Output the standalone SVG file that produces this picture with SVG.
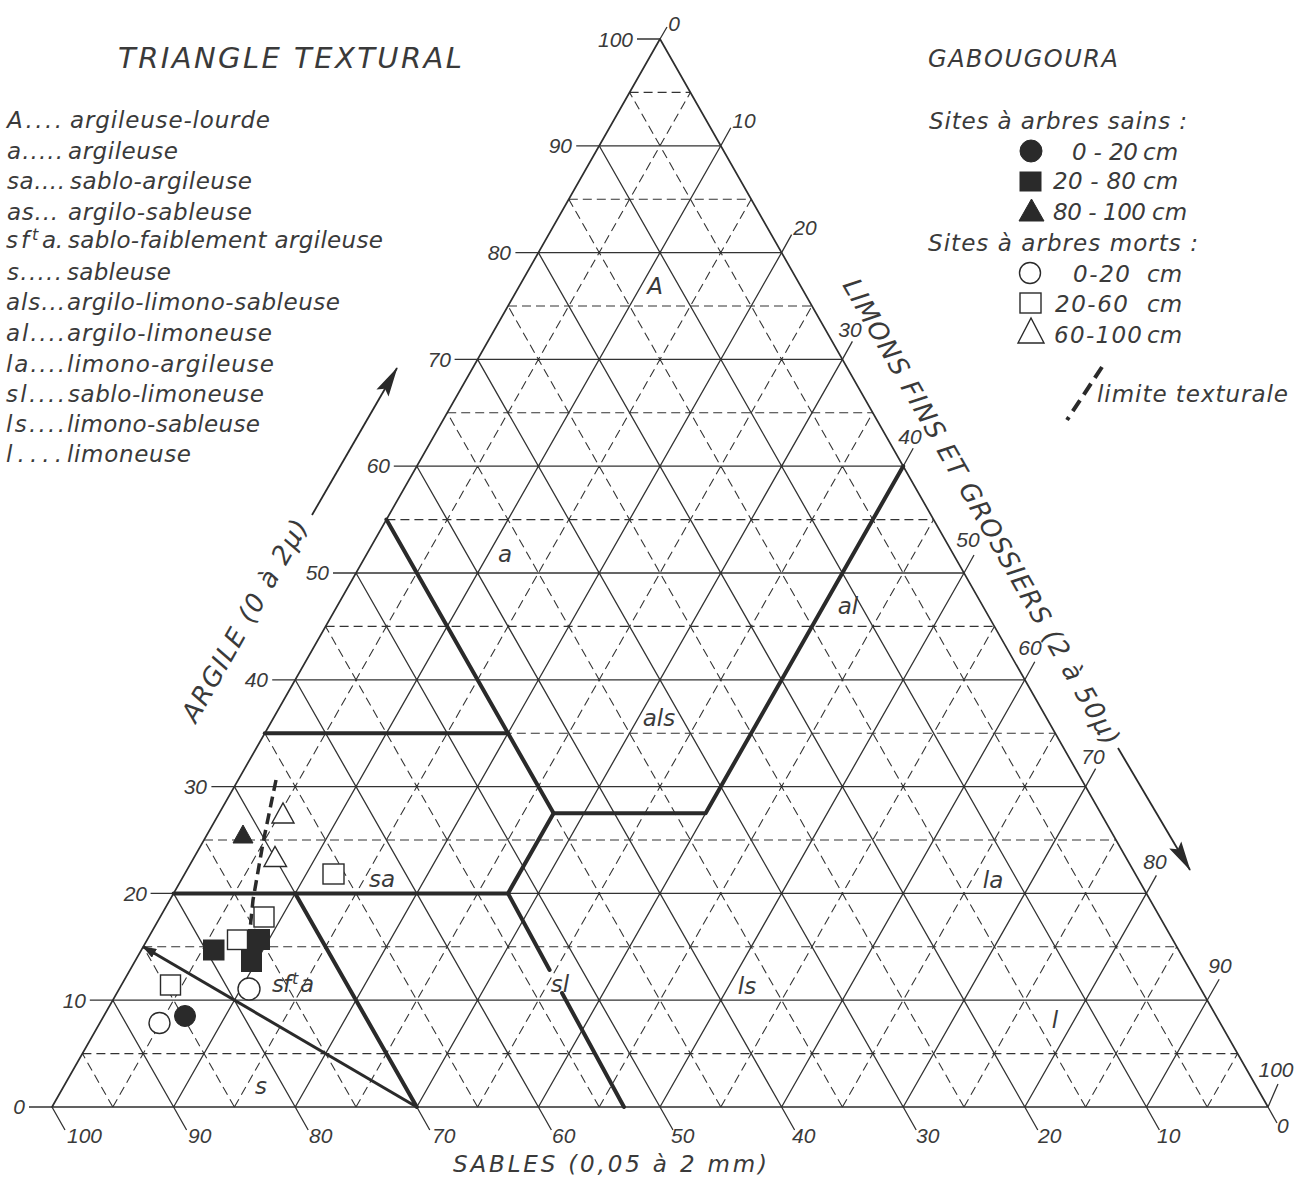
<svg xmlns="http://www.w3.org/2000/svg" width="1309" height="1181" viewBox="0 0 1309 1181">
<style>
text{font-family:"DejaVu Sans","Liberation Sans",Arial,sans-serif;font-style:italic;fill:#3a3a3a}
.g{stroke:#333;stroke-width:1.3;fill:none}
.d{stroke:#333;stroke-width:1.1;stroke-dasharray:9 5;fill:none}
.b{stroke:#2a2a2a;stroke-width:4;fill:none;stroke-linecap:round;stroke-linejoin:round}
.ax text{font-family:"Liberation Sans",Arial,sans-serif;font-size:21px}
.lg{font-size:23px}
.zl{font-size:23px;text-anchor:middle}
.fill{fill:#2a2a2a;stroke:#2a2a2a;stroke-width:1}
.open{fill:#fff;stroke:#2a2a2a;stroke-width:1.4}
</style>
<defs>
<marker id="ah" viewBox="0 0 30 16" refX="29" refY="8" markerWidth="30" markerHeight="16" markerUnits="userSpaceOnUse" orient="auto"><path d="M0,1 L30,8 L0,15 L5,8 Z" fill="#2a2a2a"/></marker>
<marker id="ah2" viewBox="0 0 14 10" refX="13" refY="5" markerWidth="14" markerHeight="10" markerUnits="userSpaceOnUse" orient="auto-start-reverse"><path d="M0,0 L14,5 L0,10 Z" fill="#2a2a2a"/></marker>
</defs>
<rect width="1309" height="1181" fill="#fff"/>

<g id="title">
<text x="118" y="68" font-size="29" textLength="344" lengthAdjust="spacing">TRIANGLE TEXTURAL</text>
<text x="928" y="67" font-size="24" textLength="190" lengthAdjust="spacing">GABOUGOURA</text>
</g>

<g id="legend-left" class="lg">
<text x="7" y="128" textLength="55" lengthAdjust="spacing">A....</text><text x="70" y="128" textLength="200" lengthAdjust="spacing">argileuse-lourde</text>
<text x="7" y="159" textLength="56" lengthAdjust="spacing">a.....</text><text x="68" y="159" textLength="110" lengthAdjust="spacing">argileuse</text>
<text x="7" y="189" textLength="58" lengthAdjust="spacing">sa....</text><text x="70" y="189" textLength="182" lengthAdjust="spacing">sablo-argileuse</text>
<text x="7" y="220" textLength="51" lengthAdjust="spacing">as...</text><text x="68" y="220" textLength="184" lengthAdjust="spacing">argilo-sableuse</text>
<text x="6" y="248" textLength="23" lengthAdjust="spacing">sf</text><text x="32" y="240" font-size="16">t</text><text x="42" y="248" textLength="21" lengthAdjust="spacing">a.</text><text x="68" y="248" textLength="315" lengthAdjust="spacing">sablo-faiblement argileuse</text>
<text x="7" y="280" textLength="55" lengthAdjust="spacing">s.....</text><text x="67" y="280" textLength="104" lengthAdjust="spacing">sableuse</text>
<text x="6" y="310" textLength="59" lengthAdjust="spacing">als...</text><text x="67" y="310" textLength="273" lengthAdjust="spacing">argilo-limono-sableuse</text>
<text x="6" y="341" textLength="59" lengthAdjust="spacing">al....</text><text x="67" y="341" textLength="205" lengthAdjust="spacing">argilo-limoneuse</text>
<text x="6" y="372" textLength="59" lengthAdjust="spacing">la....</text><text x="67" y="372" textLength="207" lengthAdjust="spacing">limono-argileuse</text>
<text x="6" y="402" textLength="59" lengthAdjust="spacing">sl....</text><text x="68" y="402" textLength="196" lengthAdjust="spacing">sablo-limoneuse</text>
<text x="6" y="432" textLength="59" lengthAdjust="spacing">ls....</text><text x="67" y="432" textLength="193" lengthAdjust="spacing">limono-sableuse</text>
<text x="6" y="462" textLength="56" lengthAdjust="spacing">l....</text><text x="67" y="462" textLength="124" lengthAdjust="spacing">limoneuse</text>
</g>

<g id="legend-right" class="lg">
<text x="929" y="129" textLength="258" lengthAdjust="spacing">Sites à arbres sains :</text>
<circle cx="1031" cy="151" r="11" class="fill"/>
<text x="1072" y="160" textLength="66" lengthAdjust="spacing">0 - 20</text><text x="1143" y="160">cm</text>
<rect x="1020" y="172" width="21" height="19" class="fill"/>
<text x="1053" y="189" textLength="83" lengthAdjust="spacing">20 - 80</text><text x="1143" y="189">cm</text>
<path d="M1019 221L1044 221L1031.5 199Z" class="fill"/>
<text x="1053" y="220" textLength="93" lengthAdjust="spacing">80 - 100</text><text x="1152" y="220">cm</text>
<text x="928" y="251" textLength="270" lengthAdjust="spacing">Sites à arbres morts :</text>
<circle cx="1030" cy="273" r="10.5" class="open"/>
<text x="1073" y="282" textLength="57" lengthAdjust="spacing">0-20</text><text x="1147" y="282">cm</text>
<rect x="1020" y="293" width="21" height="20" class="open"/>
<text x="1055" y="312" textLength="73" lengthAdjust="spacing">20-60</text><text x="1147" y="312">cm</text>
<path d="M1018 343L1044 343L1031 318Z" class="open"/>
<text x="1054" y="343" textLength="88" lengthAdjust="spacing">60-100</text><text x="1147" y="343">cm</text>
<line x1="1102" y1="367" x2="1067" y2="420" stroke="#2a2a2a" stroke-width="4" stroke-dasharray="13 7"/>
<text x="1097" y="402" textLength="191" lengthAdjust="spacing">limite texturale</text>
</g>

<g id="grid">
<path class="d" d="M82.4 1053.6H1237.6M143.2 946.8H1176.8M204 840H1116M264.8 733.2H1055.2M325.6 626.4H994.4M386.4 519.6H933.6M447.2 412.8H872.8M508 306H812M568.8 199.2H751.2M629.6 92.4H690.4
M112.8 1107L690.4 92.4M234.4 1107L751.2 199.2M356 1107L812 306M477.6 1107L872.8 412.8M599.2 1107L933.6 519.6M720.8 1107L994.4 626.4M842.4 1107L1055.2 733.2M964 1107L1116 840M1085.6 1107L1176.8 946.8M1207.2 1107L1237.6 1053.6
M112.8 1107L82.4 1053.6M234.4 1107L143.2 946.8M356 1107L204 840M477.6 1107L264.8 733.2M599.2 1107L325.6 626.4M720.8 1107L386.4 519.6M842.4 1107L447.2 412.8M964 1107L508 306M1085.6 1107L568.8 199.2M1207.2 1107L629.6 92.4"/>
<path class="g" d="M112.8 1000.2H1207.2M173.6 893.4H1146.4M234.4 786.6H1085.6M295.2 679.8H1024.8M356 573H964M416.8 466.2H903.2M477.6 359.4H842.4M538.4 252.6H781.6M599.2 145.8H720.8
M173.6 1107L720.8 145.8M295.2 1107L781.6 252.6M416.8 1107L842.4 359.4M538.4 1107L903.2 466.2M660 1107L964 573M781.6 1107L1024.8 679.8M903.2 1107L1085.6 786.6M1024.8 1107L1146.4 893.4M1146.4 1107L1207.2 1000.2
M173.6 1107L112.8 1000.2M295.2 1107L173.6 893.4M416.8 1107L234.4 786.6M538.4 1107L295.2 679.8M660 1107L356 573M781.6 1107L416.8 466.2M903.2 1107L477.6 359.4M1024.8 1107L538.4 252.6M1146.4 1107L599.2 145.8"/>
<path d="M660 39L52 1107H1268Z" fill="none" stroke="#2e2e2e" stroke-width="1.7" stroke-linejoin="round"/>
</g>

<g id="axes">
<path class="g" d="M637 39H660M576.2 145.8H599.2M515.4 252.6H538.4M454.6 359.4H477.6M393.8 466.2H416.8M333 573H356M272.2 679.8H295.2M211.4 786.6H234.4M150.6 893.4H173.6M89.8 1000.2H112.8M29 1107H52
M52 1107l13 23M173.6 1107l13 23M295.2 1107l13 23M416.8 1107l13 23M538.4 1107l13 23M660 1107l13 23M781.6 1107l13 23M903.2 1107l13 23M1024.8 1107l13 23M1146.4 1107l13 23M1268 1107l9 16
M660 39l7 -12M720.8 145.8l10 -18M781.6 252.6l10 -18M842.4 359.4l10 -18M903.2 466.2l10 -18M964 573l10 -18M1024.8 679.8l10 -18M1085.6 786.6l10 -18M1146.4 893.4l10 -18M1207.2 1000.2l12 -21M1268 1107l10 -23"/>
<g class="ax" text-anchor="end">
<text x="633" y="47">100</text><text x="572" y="153">90</text><text x="511" y="260">80</text><text x="451" y="367">70</text><text x="390" y="473">60</text><text x="329" y="580">50</text><text x="268" y="687">40</text><text x="207" y="794">30</text><text x="147" y="901">20</text><text x="86" y="1008">10</text><text x="25" y="1114">0</text>
</g>
<g class="ax" text-anchor="middle">
<text x="674" y="31">0</text><text x="744" y="128">10</text><text x="805" y="235">20</text><text x="850" y="337">30</text><text x="910" y="444">40</text><text x="968" y="547">50</text><text x="1030" y="655">60</text><text x="1093" y="764">70</text><text x="1155" y="869">80</text><text x="1220" y="973">90</text><text x="1276" y="1077">100</text>
</g>
<g class="ax">
<text x="67" y="1143">100</text><text x="188" y="1143">90</text><text x="309" y="1143">80</text><text x="432" y="1143">70</text><text x="552" y="1143">60</text><text x="671" y="1143">50</text><text x="792" y="1143">40</text><text x="916" y="1143">30</text><text x="1038" y="1143">20</text><text x="1157" y="1143">10</text><text x="1277" y="1133">0</text>
</g>
<text transform="translate(196,724) rotate(-60.35)" font-size="26" textLength="228" lengthAdjust="spacing">ARGILE (0 à 2μ)</text>
<text transform="translate(842,285) rotate(60.35)" font-size="26" textLength="532" lengthAdjust="spacing">LIMONS FINS ET GROSSIERS (2 à 50μ)</text>
<text x="453" y="1172" font-size="23" textLength="314" lengthAdjust="spacing">SABLES (0,05 à 2 mm)</text>
<line x1="312" y1="515" x2="397" y2="368" stroke="#2a2a2a" stroke-width="1.8" marker-end="url(#ah)"/>
<line x1="1118" y1="748" x2="1190" y2="870" stroke="#2a2a2a" stroke-width="1.8" marker-end="url(#ah)"/>
</g>

<g id="boundaries">
<path class="b" d="M386.4 519.6L553.6 813.3H705.6L903.2 466.2"/>
<path class="b" d="M553.6 813.3L508 893.4L549.6 970M562 993L624 1107"/>
<path class="b" d="M173.6 893.4H508"/>
<path class="b" d="M264.8 733.2H508"/>
<path class="b" d="M295.2 893.4L416.8 1107"/>
<path d="M143.2 946.8L416.8 1107" fill="none" stroke="#2a2a2a" stroke-width="3" marker-start="url(#ah2)"/>
<polyline points="276,780 263,843 253,900 250,930" fill="none" stroke="#2a2a2a" stroke-width="3.5" stroke-dasharray="11 6"/>
</g>

<g id="data">
<path d="M233 843L253 843L243 825Z" class="fill"/>
<path d="M272 823L294 823L283 803Z" class="open"/>
<path d="M264 866.5L286.5 866.5L275 846.5Z" class="open"/>
<rect x="323" y="864" width="21" height="20" class="open"/>
<rect x="254" y="907" width="20" height="20" class="open"/>
<rect x="227.5" y="930" width="20" height="19.5" class="open"/>
<rect x="248.5" y="929.5" width="21" height="20" class="fill"/>
<rect x="203.5" y="940" width="20.5" height="20" class="fill"/>
<rect x="241.5" y="950" width="20" height="21.5" class="fill"/>
<circle cx="249" cy="989" r="11" class="open"/>
<rect x="160.5" y="975" width="20" height="20" class="open"/>
<circle cx="185" cy="1016" r="10.5" class="fill"/>
<circle cx="159.5" cy="1023" r="10.5" class="open"/>
</g>

<g id="labels">
<text class="zl" x="655" y="294">A</text>
<text class="zl" x="505" y="562">a</text>
<text class="zl" x="848" y="614">al</text>
<text class="zl" x="659" y="726">als</text>
<text class="zl" x="382" y="887">sa</text>
<text x="272" y="992" font-size="23" textLength="19" lengthAdjust="spacing">sf</text><text x="292" y="984" font-size="16">t</text><text x="300" y="992" font-size="23">a</text>
<text class="zl" x="560" y="992">sl</text>
<text class="zl" x="747" y="994">ls</text>
<text class="zl" x="993" y="888">la</text>
<text class="zl" x="1055" y="1028">l</text>
<text class="zl" x="261" y="1094">s</text>
</g>
</svg>
